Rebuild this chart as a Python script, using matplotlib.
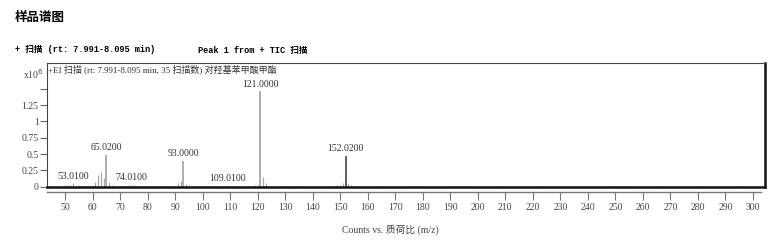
import matplotlib
matplotlib.use("Agg")
import matplotlib.pyplot as plt

plt.rcParams['font.family'] = ['Liberation Serif', 'Noto Sans CJK SC', 'DejaVu Sans']

# m/z values and intensities (x10^6)
mz = [50, 51, 52, 53, 54, 55, 56, 57, 58, 59, 60, 61, 62, 63, 64, 65, 66, 67,
      69, 70, 71, 72, 73, 74, 75, 76, 77, 78, 79, 80, 81, 83, 84, 87, 88, 89, 90,
      91, 92, 93, 94, 95, 97, 100, 102, 105, 106, 107, 108, 109, 110, 111, 113,
      117, 118, 119, 120, 121, 122, 123, 124, 125, 130, 131, 132, 134,
      147, 148, 149, 150, 151, 152, 153, 154, 155, 156, 163, 165,
      177, 178, 190, 192, 195, 207, 208, 222, 223, 250, 252, 253, 255, 265, 267,
      280, 282, 295]
inten = [0.02, 0.03, 0.02, 0.05, 0.01, 0.02, 0.01, 0.01, 0.01, 0.01, 0.02, 0.07, 0.18, 0.23, 0.13, 0.485, 0.07, 0.02,
         0.01, 0.01, 0.01, 0.01, 0.02, 0.03, 0.02, 0.01, 0.01, 0.01, 0.01, 0.01, 0.01, 0.01, 0.01, 0.01, 0.01, 0.01, 0.01,
         0.05, 0.09, 0.40, 0.04, 0.02, 0.01, 0.01, 0.01, 0.01, 0.01, 0.01, 0.01, 0.02, 0.01, 0.01, 0.01,
         0.01, 0.01, 0.02, 0.03, 1.46, 0.15, 0.05, 0.01, 0.01, 0.01, 0.01, 0.01, 0.01,
         0.01, 0.01, 0.02, 0.03, 0.05, 0.475, 0.05, 0.02, 0.01, 0.01, 0.01, 0.01,
         0.01, 0.01, 0.01, 0.01, 0.01, 0.01, 0.01, 0.01, 0.01, 0.01, 0.01, 0.01, 0.01, 0.01, 0.01,
         0.01, 0.01, 0.01]

label_mz = [53, 65, 74, 93, 109, 121, 152]
label_text = ["53.0100", "65.0200", "74.0100", "93.0000", "109.0100", "121.0000", "152.0200"]
label_y = [0.05, 0.485, 0.03, 0.40, 0.02, 1.46, 0.475]

xticks = list(range(50, 301, 10))
yticks = [0, 0.25, 0.5, 0.75, 1, 1.25, 1.5]
ytick_labels = ["0", "0.25", "0.5", "0.75", "1", "1.25", ""]

W, H = 780, 245
fig = plt.figure(figsize=(W / 100, H / 100), dpi=100)

def fx(px):
    return px / W

def fy(py):
    return 1 - py / H

# main spectrum axes
L, R, T, B = 47, 765, 63, 187
ax = fig.add_axes([fx(L), fy(B), fx(R - L), fy(T) - fy(B)])
xmin = 43.46
scale = 2.752
ax.set_xlim(xmin, xmin + (R - L) / scale)
ax.set_ylim(-0.005, 1.897)

colors = ['#555555' if m == 152 else '#a8a8a8' for m in mz]
widths = [1.3 if v > 0.3 else 0.9 for v in inten]
ax.vlines(mz, 0, inten, colors=colors, linewidths=widths)

for m, t, yv in zip(label_mz, label_text, label_y):
    ax.text(m, yv + 0.04, t, ha='center', va='bottom', fontsize=7, color='#333333')

ax.set_xticks([])
ax.set_yticks(yticks)
ax.set_yticklabels(ytick_labels, fontsize=7, color='#444444')
ax.tick_params(axis='y', direction='out', length=5, width=0.8, color='#666666', pad=1)
for s in ['left', 'top']:
    ax.spines[s].set_linewidth(0.8)
    ax.spines[s].set_color('#444444')
for s in ['right', 'bottom']:
    ax.spines[s].set_linewidth(1.8)
    ax.spines[s].set_color('#111111')

ax.text(0.002, 0.985, "+EI 扫描 (rt: 7.991-8.095 min, 35 扫描数) 对羟基苯甲酸甲酯",
        transform=ax.transAxes, ha='left', va='top', fontsize=6.5, color='#333333')

# separate x axis below
XL, XR, XY = 47, 761, 192
ax2 = fig.add_axes([fx(XL), fy(XY), fx(XR - XL), 0.001])
ax2.set_xlim(xmin, xmin + (XR - XL) / scale)
ax2.set_ylim(0, 1)
for s in ['left', 'right', 'top']:
    ax2.spines[s].set_visible(False)
ax2.spines['bottom'].set_color('#777777')
ax2.spines['bottom'].set_linewidth(1.0)
ax2.set_yticks([])
ax2.set_xticks(xticks)
ax2.set_xticklabels([str(v) for v in xticks], fontsize=7, color='#444444')
ax2.tick_params(axis='x', direction='out', length=6, width=0.8, color='#777777', pad=2)
ax2.patch.set_visible(False)

# texts
fig.text(fx(15), fy(17), "样品谱图", ha='left', va='center', fontsize=9, fontweight='bold',
         family=['Noto Sans CJK SC'])
fig.text(fx(15), fy(50), "+ 扫描 (rt: 7.991-8.095 min)", ha='left', va='center', fontsize=6.2,
         fontweight='bold', family=['Liberation Mono', 'Noto Sans CJK SC'])
fig.text(fx(198), fy(50), "Peak 1 from + TIC 扫描", ha='left', va='center', fontsize=6.2,
         fontweight='bold', family=['Liberation Mono', 'Noto Sans CJK SC'])
fig.text(fx(23), fy(74), r"x10$^{6}$", ha='left', va='center', fontsize=7, color='#444444')
fig.text(fx(390), fy(230), "Counts vs. 质荷比 (m/z)", ha='center', va='center', fontsize=7,
         color='#444444')

fig.savefig("out.png", dpi=100)
